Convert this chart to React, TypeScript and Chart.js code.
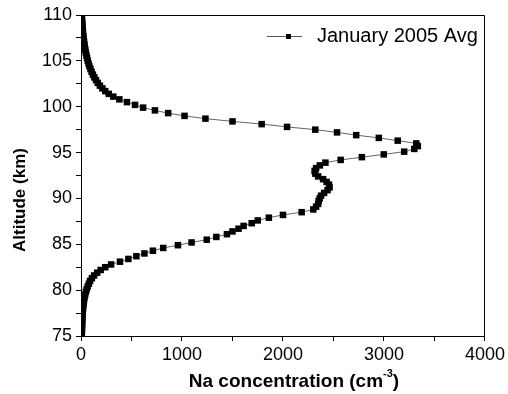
import { useEffect, useRef } from "react";
import { Chart, registerables } from "chart.js";

Chart.register(...registerables);

// Altitude grid (km) and Na concentration (cm^-3)
const ALTITUDE_KM = [
  109.8, 109.5, 109.2, 108.9, 108.6, 108.3, 108.0, 107.7, 107.4, 107.1,
  106.8, 106.5, 106.2, 105.9, 105.6, 105.3, 105.0, 104.7, 104.4, 104.1,
  103.8, 103.5, 103.2, 102.9, 102.6, 102.3, 102.0, 101.7, 101.4, 101.1,
  100.8, 100.5, 100.2, 99.9, 99.6, 99.3, 99.0, 98.7, 98.4, 98.1,
  97.8, 97.5, 97.2, 96.9, 96.6, 96.3, 96.0, 95.7, 95.4, 95.1,
  94.8, 94.5, 94.2, 93.9, 93.6, 93.3, 93.0, 92.7, 92.4, 92.1,
  91.8, 91.5, 91.2, 90.9, 90.6, 90.3, 90.0, 89.7, 89.4, 89.1,
  88.8, 88.5, 88.2, 87.9, 87.6, 87.3, 87.0, 86.7, 86.4, 86.1,
  85.8, 85.5, 85.2, 84.9, 84.6, 84.3, 84.0, 83.7, 83.4, 83.1,
  82.8, 82.5, 82.2, 81.9, 81.6, 81.3, 81.0, 80.7, 80.4, 80.1,
  79.8, 79.5, 79.2, 78.9, 78.6, 78.3, 78.0, 77.7, 77.4, 77.1,
  76.8, 76.5, 76.2, 75.9, 75.6, 75.3,
];

const NA_CONC = [
  8, 10, 12, 14, 16, 18, 20, 23, 26, 30,
  34, 38, 43, 48, 54, 60, 67, 75, 84, 94,
  105, 118, 132, 148, 166, 187, 212, 240, 275, 320,
  380, 455, 535, 615, 732, 863, 1025, 1232, 1500, 1789,
  2040, 2320, 2535, 2725, 2949, 3136, 3320, 3335, 3300, 3200,
  2998, 2781, 2571, 2420, 2365, 2328, 2313, 2320, 2348, 2397,
  2432, 2456, 2461, 2441, 2407, 2377, 2363, 2353, 2348, 2328,
  2300, 2185, 2000, 1860, 1750, 1690, 1610, 1560, 1500, 1445,
  1340, 1245, 1095, 960, 814, 712, 628, 548, 469, 386,
  298, 240, 195, 160, 130, 108, 90, 78, 66, 56,
  48, 41, 35, 30, 26, 23, 20, 18, 16, 14,
  13, 12, 11, 10, 9, 8,
];

const X_MIN = 0;
const X_MAX = 4000;
const X_STEP = 500;
const X_LABEL_STEP = 1000;
const Y_MIN = 75;
const Y_MAX = 110;
const Y_STEP = 2.5;
const Y_LABEL_STEP = 5;

const SERIES_LABEL = "January 2005 Avg";
const X_TITLE = "Na concentration (cm";
const X_TITLE_SUP = "-3";
const X_TITLE_END = ")";
const Y_TITLE = "Altitude (km)";

const FONT = "'Liberation Sans', Arial, Helvetica, sans-serif";

export default function App() {
  const ref = useRef<HTMLCanvasElement>(null);

  useEffect(() => {
    const canvas = ref.current;
    if (!canvas) return;

    const decor = {
      id: "decor",
      afterDraw(chart: any) {
        const { ctx, chartArea: a } = chart;
        ctx.save();
        // top and right frame
        ctx.strokeStyle = "#000";
        ctx.lineWidth = 1;
        ctx.beginPath();
        const top = Math.round(a.top) + 0.5;
        const right = Math.round(a.right) - 0.5;
        ctx.moveTo(Math.round(a.left), top);
        ctx.lineTo(right, top);
        ctx.lineTo(right, Math.round(a.bottom));
        ctx.stroke();

        // legend
        const ly = a.top + 21;
        ctx.strokeStyle = "#555";
        ctx.lineWidth = 1;
        ctx.beginPath();
        ctx.moveTo(a.right - 218, ly + 0.5);
        ctx.lineTo(a.right - 183, ly + 0.5);
        ctx.stroke();
        ctx.fillStyle = "#000";
        ctx.fillRect(a.right - 199, ly - 2, 5, 5);
        ctx.font = `20px ${FONT}`;
        ctx.textBaseline = "middle";
        ctx.textAlign = "left";
        ctx.fillText(SERIES_LABEL, a.right - 168, ly);

        // x title with superscript
        const mainFont = `bold 19px ${FONT}`;
        const supFont = `bold 11px ${FONT}`;
        ctx.font = mainFont;
        const w1 = ctx.measureText(X_TITLE).width;
        const w3 = ctx.measureText(X_TITLE_END).width;
        ctx.font = supFont;
        const w2 = ctx.measureText(X_TITLE_SUP).width;
        const total = w1 + w2 + w3;
        const cx = (a.left + a.right) / 2 + 11;
        let x = cx - total / 2;
        const ty = 382;
        ctx.font = mainFont;
        ctx.fillText(X_TITLE, x, ty);
        x += w1;
        ctx.font = supFont;
        ctx.fillText(X_TITLE_SUP, x, ty - 8);
        x += w2;
        ctx.font = mainFont;
        ctx.fillText(X_TITLE_END, x, ty);

        // y title
        ctx.save();
        ctx.translate(20, 200);
        ctx.rotate(-Math.PI / 2);
        ctx.font = `bold 17px ${FONT}`;
        ctx.textAlign = "center";
        ctx.textBaseline = "middle";
        ctx.fillText(Y_TITLE, 0, 0);
        ctx.restore();

        ctx.restore();
      },
    };

    const chart = new Chart(canvas, {
      type: "scatter",
      data: {
        datasets: [
          {
            label: SERIES_LABEL,
            data: ALTITUDE_KM.map((alt, i) => ({ x: NA_CONC[i], y: alt })),
            showLine: true,
            borderColor: "#666",
            borderWidth: 1,
            pointStyle: "rect",
            pointRadius: 4.6,
            pointBackgroundColor: "#000",
            pointBorderColor: "#000",
            pointBorderWidth: 0,
          },
        ],
      },
      options: {
        responsive: false,
        animation: false,
        layout: { padding: { left: 0, top: 15, right: 20, bottom: 0 } },
        plugins: {
          legend: { display: false },
          tooltip: { enabled: false },
        },
        scales: {
          x: {
            type: "linear",
            min: X_MIN,
            max: X_MAX,
            afterFit(scale: any) {
              scale.height = 58;
            },
            ticks: {
              stepSize: X_STEP,
              autoSkip: false,
              maxRotation: 0,
              padding: 3,
              color: "#000",
              font: { family: FONT, size: 18 },
              callback: (v: any) => (Number(v) % X_LABEL_STEP === 0 ? String(v) : ""),
            },
            grid: {
              drawOnChartArea: false,
              drawTicks: true,
              tickLength: 5,
              color: "#000",
            },
            border: { display: true, color: "#000", width: 1 },
          },
          y: {
            type: "linear",
            min: Y_MIN,
            max: Y_MAX,
            afterFit(scale: any) {
              scale.width = 81;
            },
            ticks: {
              stepSize: Y_STEP,
              autoSkip: false,
              padding: 4,
              color: "#000",
              font: { family: FONT, size: 18 },
              callback: (v: any) => (Number(v) % Y_LABEL_STEP === 0 ? String(v) : ""),
            },
            grid: {
              drawOnChartArea: false,
              drawTicks: true,
              tickLength: 5,
              color: "#000",
            },
            border: { display: true, color: "#000", width: 1 },
          },
        },
      },
      plugins: [decor],
    });

    return () => chart.destroy();
  }, []);

  return (
    <div style={{ position: "absolute", left: 0, top: 0, width: 508, height: 394, background: "#fff" }}>
      <canvas ref={ref} width={508} height={394} style={{ display: "block" }} />
    </div>
  );
}
